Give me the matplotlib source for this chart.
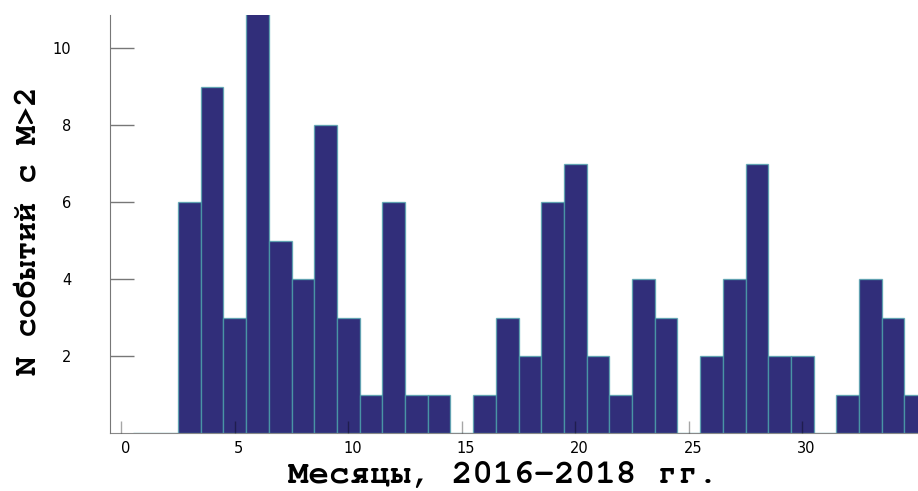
import matplotlib
matplotlib.use("Agg")
import logging
import matplotlib.pyplot as plt
from matplotlib.colors import to_rgba
from matplotlib.transforms import ScaledTranslation

logging.getLogger("matplotlib.font_manager").setLevel(logging.ERROR)

# events per month, months 1..35
months = list(range(1, 36))
counts = [0, 0, 6, 9, 3, 11, 5, 4, 8, 3,
          1, 6, 1, 1, 0, 1, 3, 2, 6, 7,
          2, 1, 4, 3, 0, 2, 4, 7, 2, 2,
          0, 1, 4, 3, 1]
xticks = [0, 5, 10, 15, 20, 25, 30]
yticks = [2, 4, 6, 8, 10]

# courier-like if present, else Liberation Mono
mono = ["Courier New", "Nimbus Mono PS", "FreeMono", "Liberation Mono"]

fig = plt.figure(figsize=(9.18, 4.91), dpi=100)
ax = fig.add_axes([110 / 918, 58 / 491, 808 / 918, 418 / 491])

ax.bar(months, counts, width=1.0, color="#312e7a",
       edgecolor=to_rgba("#4aa6ad", 0.7), linewidth=1.0, zorder=1)

ax.set_xlim(-0.5, 35.1)
ax.set_ylim(0, 10.86)

for side in ("top", "right"):
    ax.spines[side].set_visible(False)
ax.spines["left"].set_color("#777777")
ax.spines["bottom"].set_color("#888888")
ax.spines["bottom"].set_zorder(0.5)

ax.set_xticks(xticks)
ax.set_yticks(yticks)
ax.tick_params(axis="x", direction="in", length=8.6, width=1,
               color=(0, 0, 0, 0.35), pad=6, labelsize=10.5)
ax.tick_params(axis="y", direction="in", length=17.5, width=1,
               color="#777777", pad=28, labelsize=10.5)

# x labels sit a few px right of their ticks
shift = ScaledTranslation(0.04, 0, fig.dpi_scale_trans)
for lab in ax.get_xticklabels():
    lab.set_transform(lab.get_transform() + shift)

fig.text(503 / 918, 1 - 476 / 491, "Месяцы, 2016-2018 гг.",
         family=mono, weight="bold", fontsize=24.6,
         ha="center", va="center")
fig.text(30 / 918, 1 - 231 / 491, "N событий с M>2",
         family=mono, weight="bold", fontsize=23,
         rotation=90, ha="center", va="center")

fig.savefig("out.png", dpi=100)
